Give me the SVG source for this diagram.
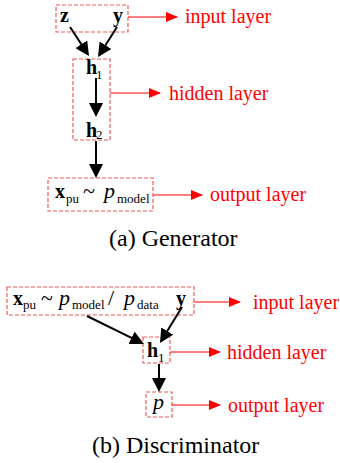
<svg xmlns="http://www.w3.org/2000/svg" width="340" height="463" viewBox="0 0 340 463">
  <style>
    text { font-family: "Liberation Serif", "DejaVu Serif", serif; fill: #000; }
    .b { font-weight: bold; font-size: 20px; }
    .i { font-style: italic; font-size: 22px; }
    .m { font-size: 22px; }
    .s { font-size: 13px; }
    .lbl { font-size: 20px; fill: #ff0000; }
    .cap { font-size: 24px; }
    .box { fill: none; stroke: #f05a5a; stroke-width: 1.2; stroke-dasharray: 4 2; }
    .flow { stroke: #000; stroke-width: 2; fill: none; marker-end: url(#blk); }
    .tag { stroke: #ff0000; stroke-width: 1; fill: none; marker-end: url(#red); }
  </style>
  <defs>
    <marker id="blk" markerUnits="userSpaceOnUse" viewBox="0 0 14 14" markerWidth="14" markerHeight="14" refX="12" refY="7" orient="auto">
      <path d="M0,0 L14,7 L0,14 z" fill="#000"/>
    </marker>
    <marker id="red" markerUnits="userSpaceOnUse" viewBox="0 0 12 10" markerWidth="12" markerHeight="10" refX="11" refY="5" orient="auto">
      <path d="M0,0 L12,5 L0,10 z" fill="#ff0000"/>
    </marker>
  </defs>

  <!-- Generator -->
  <g id="gen-input">
    <rect class="box" x="56" y="5" width="72" height="27"/>
    <text class="b" x="60" y="22">z</text>
    <text class="b" x="113" y="22">y</text>
  </g>
  <g id="gen-hidden">
    <rect class="box" x="73" y="59" width="37" height="81"/>
    <text class="b" x="86" y="74">h</text>
    <text class="s" x="96" y="79">1</text>
    <text class="b" x="86" y="137">h</text>
    <text class="s" x="96" y="139">2</text>
  </g>
  <g id="gen-output">
    <rect class="box" x="48" y="178" width="105" height="33"/>
    <text class="b" x="55" y="198">x</text>
    <text class="s" x="66" y="203">pu</text>
    <text class="m" x="83" y="198">~</text>
    <text class="i" x="104" y="198">p</text>
    <text class="s" x="117" y="203">model</text>
  </g>
  <g id="gen-labels">
    <text class="lbl" x="185" y="23">input layer</text>
    <text class="lbl" x="169" y="100">hidden layer</text>
    <text class="lbl" x="210" y="201">output layer</text>
  </g>
  <text class="cap" x="109" y="246">(a) Generator</text>

  <!-- Discriminator -->
  <g id="dis-input">
    <rect class="box" x="7" y="287" width="187" height="28"/>
    <text class="b" x="13" y="305">x</text>
    <text class="s" x="23" y="309">pu</text>
    <text class="m" x="41" y="305">~</text>
    <text class="i" x="59" y="305">p</text>
    <text class="s" x="72" y="309">model</text>
    <text class="m" x="108" y="305">/</text>
    <text class="i" x="124" y="305">p</text>
    <text class="s" x="137" y="309">data</text>
    <text class="b" x="176" y="305">y</text>
  </g>
  <g id="dis-hidden">
    <rect class="box" x="143" y="337" width="27" height="26"/>
    <text class="b" x="147" y="357">h</text>
    <text class="s" x="158" y="362">1</text>
  </g>
  <g id="dis-output">
    <rect class="box" x="146" y="392" width="26" height="25"/>
    <text class="i" x="153" y="409">p</text>
  </g>
  <g id="dis-labels">
    <text class="lbl" x="253" y="309">input layer</text>
    <text class="lbl" x="227" y="359">hidden layer</text>
    <text class="lbl" x="228" y="412">output layer</text>
  </g>
  <text class="cap" x="92" y="453">(b) Discriminator</text>

  <g id="connectors">
    <!-- network flow -->
    <line class="flow" x1="70" y1="27" x2="87.9" y2="54.3"/>
    <line class="flow" x1="117" y1="27" x2="99.1" y2="55.3"/>
    <line class="flow" x1="96" y1="78" x2="96" y2="115"/>
    <line class="flow" x1="96" y1="141" x2="96" y2="176"/>
    <line class="flow" x1="87" y1="316" x2="142.2" y2="343.1"/>
    <line class="flow" x1="182" y1="307" x2="161" y2="341.3"/>
    <line class="flow" x1="159" y1="364" x2="159" y2="390"/>
    <!-- layer tags -->
    <line class="tag" x1="128" y1="17" x2="177" y2="17"/>
    <line class="tag" x1="110" y1="93" x2="160" y2="93"/>
    <line class="tag" x1="153" y1="195" x2="202" y2="195"/>
    <line class="tag" x1="194" y1="302" x2="240" y2="302"/>
    <line class="tag" x1="170" y1="352" x2="220" y2="352"/>
    <line class="tag" x1="172" y1="405" x2="220" y2="405"/>
  </g>
</svg>
